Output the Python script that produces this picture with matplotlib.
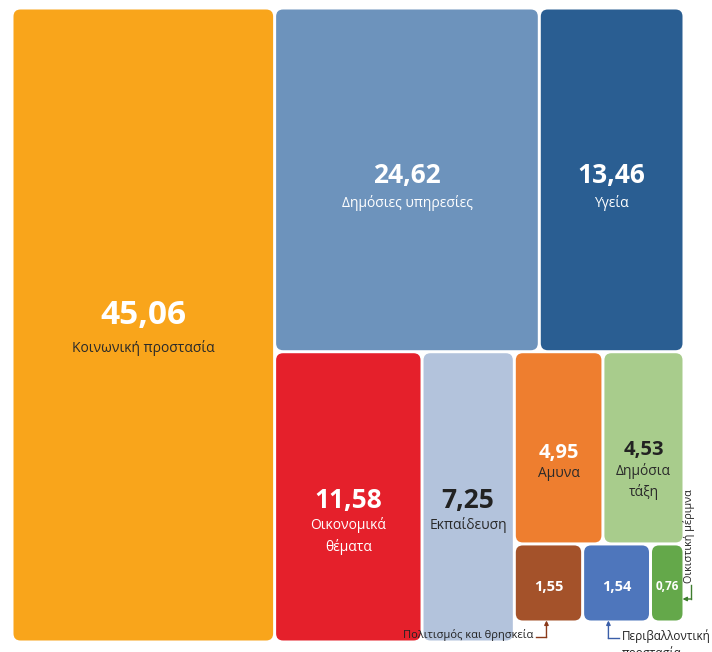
import matplotlib
matplotlib.use("Agg")
import matplotlib.pyplot as plt
from matplotlib.patches import FancyBboxPatch

# ---- data ----
categories = ["Κοινωνική προστασία", "Δημόσιες υπηρεσίες", "Υγεία",
              "Οικονομικά\nθέματα", "Εκπαίδευση", "Αμυνα", "Δημόσια\nτάξη",
              "Πολιτισμός και θρησκεία", "Περιβαλλοντική\nπροστασία", "Οικιστική μέριμνα"]
values = [45.06, 24.62, 13.46, 11.58, 7.25, 4.95, 4.53, 1.55, 1.54, 0.76]

colors = ["#F9A51B", "#6D93BC", "#2A5E92", "#E5202B", "#B3C3DC",
          "#EE7E2F", "#A8CC8C", "#A4522A", "#4E76BC", "#64A84A"]
num_colors = ["white", "white", "white", "white", "#222222",
              "white", "#222222", "white", "white", "white"]
lab_colors = ["#2a2a2a", "white", "white", "white", "#2a2a2a",
              "#2a2a2a", "#2a2a2a", None, None, None]
num_sizes = [24, 19, 19, 19, 19, 14.5, 14.5, 10.5, 10.5, 8.5]
num_dy = [-9, -4, -4, 4, 4, 5, 2, 4, 4, 4]
lab_gap = [11, 9, 9, 6, 6, 5, 5, 0, 0, 0]
inside_label = [True, True, True, True, True, True, True, False, False, False]

plt.rcParams['font.family'] = ['Open Sans', 'DejaVu Sans']

fig = plt.figure(figsize=(7.12, 6.52), dpi=100)
ax = fig.add_axes([0, 0, 1, 1])
ax.set_xlim(0, 712)
ax.set_ylim(652, 0)
ax.axis('off')

# ---- layout (nested slice treemap) ----
X0, Y0, X1, Y1 = 12, 8, 684, 642
col_inset = 20  # small-row column sits a bit higher
total = sum(values)
rects = [None] * len(values)

w0 = (X1 - X0) * values[0] / total
rects[0] = (X0, Y0, w0, Y1 - Y0)
rx0 = X0 + w0
rw = X1 - rx0
rest = total - values[0]
htop = (Y1 - Y0) * (values[1] + values[2]) / rest
x = rx0
for i in (1, 2):
    w = rw * values[i] / (values[1] + values[2])
    rects[i] = (x, Y0, w, htop)
    x += w
yb = Y0 + htop
bottom_sum = sum(values[3:])
x = rx0
for i in (3, 4):
    w = rw * values[i] / bottom_sum
    rects[i] = (x, yb, w, Y1 - yb)
    x += w
colw = rw * sum(values[5:]) / bottom_sum
colh = (Y1 - col_inset) - yb
pair = values[5] + values[6]
ph = colh * pair / sum(values[5:])
cx = x
for i in (5, 6):
    w = colw * values[i] / pair
    rects[i] = (cx, yb, w, ph)
    cx += w
cx = x
trip = sum(values[7:])
for i in (7, 8, 9):
    w = colw * values[i] / trip
    rects[i] = (cx, yb + ph, w, colh - ph)
    cx += w

gap = 1.5
for i, (rx, ry, w, h) in enumerate(rects):
    p = FancyBboxPatch((rx + gap, ry + gap), w - 2 * gap, h - 2 * gap,
                       boxstyle="round,pad=0,rounding_size=7",
                       facecolor=colors[i], edgecolor='none')
    ax.add_patch(p)
    cxm = rx + w / 2
    cym = ry + h / 2 + num_dy[i]
    ax.text(cxm, cym, f"{values[i]:.2f}".replace('.', ','), ha='center', va='center',
            fontsize=num_sizes[i], fontweight='bold', color=num_colors[i])
    if inside_label[i]:
        ax.text(cxm, cym + num_sizes[i] * 0.55 + lab_gap[i], categories[i], ha='center', va='top',
                fontsize=10, color=lab_colors[i], linespacing=1.45)

# Πολιτισμός και θρησκεία
rx, ry, w, h = rects[7]
ax_x = rx + w / 2 - 2
by = ry + h - gap
ax.plot([ax_x - 10, ax_x], [637, 637], color='#8B3A1A', lw=1)
ax.annotate("", xy=(ax_x, by), xytext=(ax_x, 637.5),
            arrowprops=dict(arrowstyle='-|>', color='#8B3A1A', lw=1, mutation_scale=6,
                            shrinkA=0, shrinkB=0))
ax.text(ax_x - 13, 635, categories[7], ha='right', va='center', fontsize=8, color='#222222')

# Περιβαλλοντική προστασία
rx, ry, w, h = rects[8]
ax_x = rx + w * 0.38
by = ry + h - gap
ax.plot([ax_x, ax_x + 11], [638, 638], color='#3A5EA8', lw=1)
ax.annotate("", xy=(ax_x, by), xytext=(ax_x, 638.5),
            arrowprops=dict(arrowstyle='-|>', color='#3A5EA8', lw=1, mutation_scale=6,
                            shrinkA=0, shrinkB=0))
ax.text(ax_x + 13, 629, categories[8], ha='left', va='top', fontsize=8.5, color='#222222',
        linespacing=1.3)

# Οικιστική μέριμνα
rx, ry, w, h = rects[9]
ex = rx + w - gap
ax.plot([691, 691], [585, 599], color='#3E7D2E', lw=1)
ax.annotate("", xy=(ex, 599), xytext=(691.5, 599),
            arrowprops=dict(arrowstyle='-|>', color='#3E7D2E', lw=1, mutation_scale=6,
                            shrinkA=0, shrinkB=0))
ax.text(689, 583, categories[9], rotation=90, ha='center', va='bottom', fontsize=7.8,
        color='#222222')

fig.savefig("out.png", dpi=100, facecolor='white')
